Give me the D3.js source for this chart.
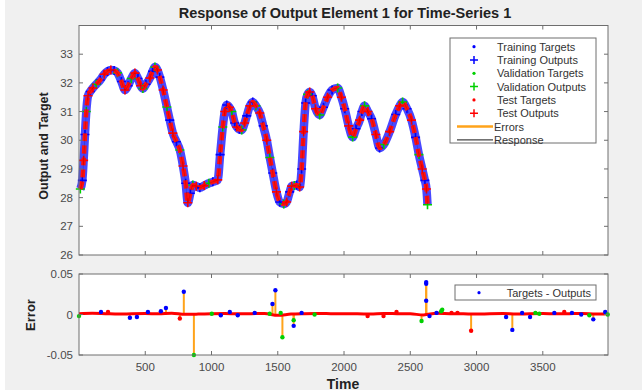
<!DOCTYPE html>
<html>
<head>
<meta charset="utf-8">
<script src="https://cdn.jsdelivr.net/npm/d3@7"></script>
<style>
  body { margin: 0; background: #fff; }
  svg { display: block; font-family: "Liberation Sans", Arial, sans-serif; }
</style>
</head>
<body>
<div id="chart"></div>
<script>
// response curve (time, value)
const respTime = [10, 25, 35, 45, 55, 68, 85, 105, 130, 160, 190, 215, 240, 265, 290, 320, 347, 370, 395, 422,
  445, 465, 482, 505, 535, 555, 573, 592, 610, 635, 663, 685, 708, 735, 761, 785, 805, 821, 840, 859,
  885, 912, 945, 980, 1010, 1047, 1065, 1085, 1100, 1115, 1135, 1153, 1175, 1191, 1210, 1228, 1250, 1266, 1290, 1311,
  1335, 1364, 1390, 1417, 1440, 1462, 1490, 1515, 1545, 1567, 1590, 1605, 1625, 1643, 1665, 1680, 1695, 1710, 1725, 1741,
  1760, 1785, 1816, 1845, 1876, 1910, 1952, 1980, 2005, 2035, 2065, 2090, 2118, 2135, 2155, 2180, 2208, 2240, 2268, 2300,
  2344, 2390, 2420, 2442, 2475, 2509, 2540, 2565, 2590, 2610, 2622, 2630]
const respValue = [28.3, 28.6, 29.3, 30.2, 31.0, 31.55, 31.7, 31.82, 31.95, 32.1, 32.3, 32.4, 32.45, 32.43, 32.35, 32.05, 31.75, 31.9, 32.15, 32.34,
  32.15, 31.9, 31.8, 31.95, 32.17, 32.4, 32.55, 32.45, 32.2, 31.75, 31.16, 30.7, 30.25, 29.95, 29.66, 29.1, 28.5, 27.82, 28.15, 28.44,
  28.4, 28.34, 28.42, 28.5, 28.55, 28.62, 29.5, 30.46, 31.0, 31.23, 31.15, 31.0, 30.6, 30.46, 30.38, 30.36, 30.6, 30.85, 31.2, 31.33,
  31.2, 30.95, 30.5, 30.0, 29.4, 28.86, 28.2, 27.85, 27.78, 27.85, 28.2, 28.4, 28.42, 28.44, 28.37, 29.0, 30.3, 31.3, 31.6, 31.68,
  31.55, 31.1, 30.88, 31.15, 31.5, 31.75, 31.82, 31.5, 31.1, 30.5, 30.11, 30.4, 30.7, 31.0, 31.2, 31.0, 30.75, 30.2, 29.73, 29.85,
  30.3, 30.9, 31.2, 31.33, 31.1, 30.7, 30.1, 29.5, 29.0, 28.6, 28.3, 27.75]
// T = training, V = validation, E = test
const respSplit = 'VTETVETEVTETETVTETVETEVTETVETEVTETVETETVETEVTETVETEVTETVETETVETEVTETVETEVTETETVETEVTETVETEVTETVETETVETEVTETVETEVTETVETE'

// small wiggle of the dense error band
const baseTime = [0, 100, 200, 300, 400, 500, 600, 700, 800, 900, 1000, 1100, 1200, 1300, 1400, 1500, 1600, 1700, 1800, 1900,
  2000, 2100, 2200, 2300, 2400, 2500, 2600, 2700, 2800, 2900, 3000, 3100, 3200, 3300, 3400, 3500, 3600, 3700, 3800, 3900, 3990]
const baseError = [0.001, 0.0015, 0.001, 0.0005, 0.001, 0.0012, 0.0008, 0.0015, 0.0002, 0.0005, 0.001, 0.0012, 0.0008, 0.001, 0.0012, -0.001, 0.0005, 0.001, 0.0012, 0.001,
  0.0008, 0.001, 0.0005, 0.0012, 0.001, 0.0008, -0.0005, 0.0015, 0.001, 0.0008, 0.0005, 0.001, 0.0012, 0.0005, 0.001, 0.0012, 0.0008, 0.001, 0.0012, 0.0005, 0.001]

// individual error points (time, error, split)
const errTime = [0, 166, 219, 384, 437, 520, 618, 656, 761, 791, 867, 1002, 1070, 1138, 1198, 1326, 1439,
  1460, 1482, 1522, 1535, 1620, 1620, 1680, 1778, 2178, 2298, 2396, 2585, 2620, 2620, 2620, 2645, 2698, 2733, 2741, 2811,
  2856, 2959, 3223, 3270, 3344, 3404, 3444, 3474, 3587, 3662, 3720, 3790, 3851, 3881, 3971, 3990]
const errValue = [-0.002, 0.003, 0.003, -0.004, -0.003, 0.003, 0.004, 0.008, -0.005, 0.028, -0.05, 0.001, -0.001, 0.003, -0.001, 0.002, 0.001,
  0.013, 0.03, 0.002, -0.028, -0.014, -0.007, 0.002, 0.0, -0.002, -0.002, 0.003, -0.008, 0.04, 0.038, 0.017, -0.002, 0.002, 0.004, 0.006, 0.002,
  0.002, -0.02, -0.003, -0.019, 0.002, -0.003, 0.002, 0.001, 0.002, 0.003, 0.002, 0.0, -0.001, -0.006, 0.003, 0.0]
const errSplit = 'VTETTTTTETVVTTTTVTTVVTVTVEEEVTTTTTVVEEETTTTVVTETTVTTV'

const yTicksTop = [26, 27, 28, 29, 30, 31, 32, 33]
const yTicksErr = [-0.05, 0, 0.05]
const xTicks = [500, 1000, 1500, 2000, 2500, 3000, 3500]
const legendLabels = ['Training Targets', 'Training Outputs', 'Validation Targets', 'Validation Outputs',
  'Test Targets', 'Test Outputs', 'Errors', 'Response']

const W = 642, H = 392
const colors = {T: '#0000ff', V: '#00d000', E: '#ff0000'}
const orange = '#ffa31a'
const frame = '#6e6e6e'
const tickText = '#4a4a4a'

const svg = d3.select('#chart').append('svg').attr('width', W).attr('height', H)
svg.append('rect').attr('width', W).attr('height', H).attr('fill', '#fff')
svg.append('rect').attr('x', 5).attr('width', W - 5).attr('height', 390).attr('fill', '#f0f0f0')

const x = d3.scaleLinear().domain([0, 3992]).range([79, 608])
const yTop = d3.scaleLinear().domain([26, 34]).range([255, 25.5])
const yErr = d3.scaleLinear().domain([-0.05, 0.05]).range([355, 274])

const resp = respTime.map((t, i) => ({t, v: respValue[i], s: respSplit[i] || 'T'}))
const errs = errTime.map((t, i) => ({t, e: errValue[i], s: errSplit[i] || 'T'}))

const plus = (g, cx, cy, r, color, w) => {
  g.append('path')
      .attr('d', `M${cx - r},${cy}H${cx + r}M${cx},${cy - r}V${cy + r}`)
      .attr('stroke', color)
      .attr('stroke-width', w)
}

// white plot areas
const plotArea = (yScale) => {
  const [y0, y1] = yScale.range()
  const g = svg.append('g')
  g.append('rect')
      .attr('x', 79).attr('y', y1)
      .attr('width', 529).attr('height', y0 - y1)
      .attr('fill', '#fff')
  return g
}

const gTop = plotArea(yTop)
const gErr = plotArea(yErr)

// ---- top panel data
const line = d3.line().x((d) => x(d.t)).y((d) => yTop(d.v)).curve(d3.curveMonotoneX)
gTop.append('path').datum(resp)
    .attr('d', line)
    .attr('fill', 'none')
    .attr('stroke', '#1a1aff')
    .attr('stroke-width', 8.5)
    .attr('stroke-opacity', 0.8)
    .attr('stroke-linejoin', 'round')

;['T', 'V'].forEach((s) => {
  resp.filter((d) => d.s === s).forEach((d) => {
    plus(gTop, x(d.t), yTop(d.v), 4.5, colors[s], 1.6)
  })
})
gTop.append('path').datum(resp)
    .attr('d', line)
    .attr('fill', 'none')
    .attr('stroke', '#ff1010')
    .attr('stroke-width', 4.5)
    .attr('stroke-dasharray', '8,4')
resp.filter((d) => d.s === 'E').forEach((d) => {
  plus(gTop, x(d.t), yTop(d.v), 4.5, colors.E, 1.6)
})
gTop.append('path').datum(resp)
    .attr('d', line)
    .attr('fill', 'none')
    .attr('stroke', '#000')
    .attr('stroke-width', 0.5)
    .attr('stroke-opacity', 0.3)

// ---- error panel
gErr.selectAll('line.stem')
    .data(errs)
    .enter()
    .append('line')
    .attr('class', 'stem')
    .attr('x1', (d) => x(d.t)).attr('x2', (d) => x(d.t))
    .attr('y1', yErr(0)).attr('y2', (d) => yErr(d.e))
    .attr('stroke', orange)
    .attr('stroke-width', 2)

const base = baseTime.map((t, i) => ({t, e: baseError[i]}))
gErr.append('path').datum(base)
    .attr('d', d3.line().x((d) => x(d.t)).y((d) => yErr(d.e)).curve(d3.curveMonotoneX))
    .attr('fill', 'none')
    .attr('stroke', '#ff0000')
    .attr('stroke-width', 3)

gErr.selectAll('circle.err')
    .data(errs)
    .enter()
    .append('circle')
    .attr('class', 'err')
    .attr('cx', (d) => x(d.t))
    .attr('cy', (d) => yErr(d.e))
    .attr('r', 2.2)
    .attr('fill', (d) => colors[d.s])

// frames, ticks and labels
const drawAxes = (yScale, ticksY, labelsX) => {
  const [y0, y1] = yScale.range()
  const g = svg.append('g')
  g.append('rect')
      .attr('x', 79).attr('y', y1)
      .attr('width', 529).attr('height', y0 - y1)
      .attr('fill', 'none')
      .attr('stroke', frame)
      .attr('stroke-width', 1)
  ticksY.forEach((v) => {
    const yy = yScale(v)
    g.append('path').attr('d', `M79,${yy}h4M608,${yy}h-4`).attr('stroke', frame)
    g.append('text')
        .attr('x', 73).attr('y', yy + 4)
        .attr('text-anchor', 'end')
        .attr('font-size', 11.5)
        .attr('fill', tickText)
        .text(v)
  })
  xTicks.forEach((t) => {
    const xx = x(t)
    g.append('path').attr('d', `M${xx},${y0}v-4M${xx},${y1}v4`).attr('stroke', frame)
    if (labelsX) {
      g.append('text')
          .attr('x', xx).attr('y', y0 + 16)
          .attr('text-anchor', 'middle')
          .attr('font-size', 11.5)
          .attr('fill', tickText)
          .text(t)
    }
  })
}
drawAxes(yTop, yTicksTop, false)
drawAxes(yErr, yTicksErr, true)

// titles
svg.append('text').attr('x', 345).attr('y', 18)
    .attr('text-anchor', 'middle').attr('font-size', 14.5).attr('font-weight', 'bold')
    .attr('fill', '#222').text('Response of Output Element 1 for Time-Series 1')
svg.append('text').attr('transform', 'translate(48,146) rotate(-90)')
    .attr('text-anchor', 'middle').attr('font-size', 12.5).attr('font-weight', 'bold')
    .attr('fill', '#222').text('Output and Target')
svg.append('text').attr('transform', 'translate(35,315) rotate(-90)')
    .attr('text-anchor', 'middle').attr('font-size', 13).attr('font-weight', 'bold')
    .attr('fill', '#222').text('Error')
svg.append('text').attr('x', 343).attr('y', 389)
    .attr('text-anchor', 'middle').attr('font-size', 14).attr('font-weight', 'bold')
    .attr('fill', '#222').text('Time')

// top legend
const lg = svg.append('g')
lg.append('rect').attr('x', 450).attr('y', 38).attr('width', 146).attr('height', 105)
    .attr('fill', '#fff').attr('stroke', frame)
legendLabels.forEach((label, i) => {
  const yy = 46.7 + i * 13.3
  const c = [colors.T, colors.T, colors.V, colors.V, colors.E, colors.E][i]
  if (i < 6) {
    if (i % 2 === 0) {
      lg.append('circle').attr('cx', 474).attr('cy', yy).attr('r', 1.6).attr('fill', c)
    } else {
      plus(lg, 474, yy, 4, c, 1.5)
    }
  } else {
    lg.append('line').attr('x1', 457).attr('x2', 493).attr('y1', yy).attr('y2', yy)
        .attr('stroke', i === 6 ? orange : '#444').attr('stroke-width', i === 6 ? 2.5 : 1.2)
  }
  lg.append('text').attr('x', i < 6 ? 497 : 494).attr('y', yy + 4)
      .attr('font-size', 11).attr('fill', '#333').text(label)
})

// error legend
const lg2 = svg.append('g')
lg2.append('rect').attr('x', 455).attr('y', 285).attr('width', 141).attr('height', 15)
    .attr('fill', '#fff').attr('stroke', frame)
lg2.append('circle').attr('cx', 479).attr('cy', 292.7).attr('r', 1.6).attr('fill', colors.T)
lg2.append('text').attr('x', 591).attr('y', 296.5).attr('text-anchor', 'end')
    .attr('font-size', 11).attr('fill', '#333').text('Targets - Outputs')
</script>
</body>
</html>
